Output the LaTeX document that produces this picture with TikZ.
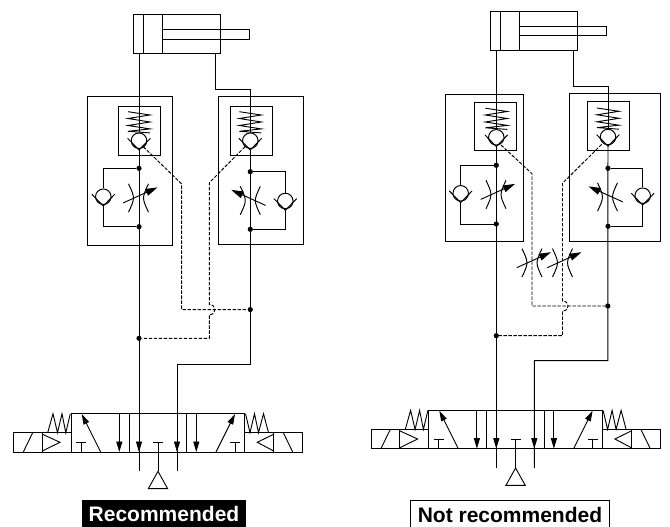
\documentclass[tikz,border=0pt]{standalone}
\usepackage{fontspec}
\setmainfont{Liberation Sans}
\usetikzlibrary{arrows.meta}
\tikzset{
  wire/.style={line width=0.98pt,black},
  thinw/.style={line width=0.92pt,black},
  pilot/.style={line width=0.95pt,black,dash pattern=on 3.4pt off 1.6pt},
  ball/.style={circle,draw,line width=0.98pt,black,minimum size=15.5pt,inner sep=0pt},
  dotj/.style={circle,fill=black,minimum size=5.2pt,inner sep=0pt},
  tipv/.style={-{Triangle[length=10.5pt,width=6pt]}},
  labelbox/.style={rectangle,inner sep=0pt,font=\bfseries\fontsize{21}{21}\selectfont,text height=21.7pt,text depth=5.3pt}
}
% ball check valve: name, x, y (centre of ball)
\newcommand{\chkv}[3]{%
  \node[ball] (#1) at (#2,#3) {};
  \coordinate (#1tip) at ({#2},{#3+9.3});
  \draw[wire] ({#2-11.4},{#3-2.4}) -- (#1tip) -- ({#2+11.4},{#3-2.4});
}
% spring: x centre, y top
\newcommand{\sprg}[2]{%
  \draw[thinw] ({#1-11},{#2}) -- ({#1+11},{#2+3.3}) -- ({#1-11},{#2+6.8}) -- ({#1+11},{#2+10.3})
     -- ({#1-11},{#2+13.8}) -- ({#1+11},{#2+17.2}) -- ({#1-11},{#2+19.6}) -- ({#1+11},{#2+21.2});
}
% variable throttle: x centre, y centre, direction (+1 arrow to the right, -1 to the left)
\newcommand{\thrt}[3]{%
  \draw[wire] ({#1-10},{#2-14.2}) .. controls ({#1-3.4},{#2}) .. ({#1-10},{#2+14.2});
  \draw[wire] ({#1+10},{#2-14.2}) .. controls ({#1+3.4},{#2}) .. ({#1+10},{#2+14.2});
  \draw[thinw,-{Triangle[length=12pt,width=7pt]}] ({#1-15.3*#3},{#2+4.9}) -- ({#1+19*#3},{#2-10.6});
}
% directional valve, in its own coordinates
\newcommand{\dirvalve}[1]{%
  \draw[wire] (71.3,452) -- (71.3,413.7) -- (244.7,413.7) -- (244.7,452) -- cycle;
  \draw[wire] (129,413.7) -- (129,452) (186.7,413.7) -- (186.7,452);
  \draw[wire] (71.3,432.7) -- (13.7,432.7) -- (13.7,452) -- (71.3,452);
  \draw[wire] (42.3,432.7) -- (42.3,452);
  \draw[wire] (244.7,432.7) -- (302.7,432.7) -- (302.7,452) -- (244.7,452);
  \draw[wire] (273.7,432.7) -- (273.7,452);
  \draw[thinw] (23.3,452) -- (32.7,432.7) (283.3,432.7) -- (292.7,452);
  \draw[thinw] (42.3,434.2) -- (60,442.3) -- (42.3,451);
  \draw[thinw] (273.7,434.2) -- (257.3,442.3) -- (273.7,451);
  \draw[thinw] (47.7,432.7) -- (53,413.7) -- (57.5,432.7) -- (62,413.7) -- (65.8,432.7) -- (70.3,413.7);
  \draw[thinw] (245.5,413.7) -- (250,432.7) -- (254.5,413.7) -- (258.5,432.7) -- (263.5,413.7) -- (268.5,432.7);
  \draw[thinw,tipv] (100.7,452) -- (81.7,414);
  \draw[thinw,tipv] (216,452) -- (235,414);
  \draw[thinw] (76,442.3) -- (86,442.3) (81,442.3) -- (81,452);
  \draw[thinw] (230,442.3) -- (240,442.3) (235,442.3) -- (235,452);
  \draw[thinw,tipv] (119.3,413.7) -- (119.3,452);
  \draw[thinw,tipv] (196.3,413.7) -- (196.3,452);
  \draw[thinw] (153,442.3) -- (163.3,442.3);
  \coordinate (#1ex) at (158,471.3);
  \draw[thinw] (158,442.3) -- (#1ex);
  \draw[thinw] (#1ex) -- (148.3,488.7) -- (167.7,488.7) -- cycle;
}
% cylinder
\newcommand{\cyl}[1]{%
  \draw[wire] (133.3,14.7) rectangle (220.3,53.3);
  \draw[wire] (143.3,14.7) rectangle (162.3,53.3);
  \draw[wire] (162.3,29.7) -- (249.3,29.7) -- (249.3,39) -- (162.3,39);
}
\begin{document}
\begin{tikzpicture}[x=1pt,y=-1pt]
\useasboundingbox (0,0) rectangle (670,527);

% ---------- LEFT: recommended ----------
\cyl{a}
\draw[wire] (87.7,96.3) rectangle (172.3,245.3);
\draw[wire] (218.7,96.3) rectangle (303.3,244.3);
\draw[wire] (118.3,106.7) rectangle (160.7,155);
\draw[wire] (230.3,106.7) rectangle (272.7,155);
\sprg{139}{111.7}
\sprg{250.3}{111.7}
\chkv{aL}{139}{140.7}
\chkv{aR}{250.3}{140.7}
\node[dotj] (aj1) at (139,168.3) {};
\node[dotj] (aj2) at (139,226.7) {};
\node[dotj] (aj3) at (250.3,171.7) {};
\node[dotj] (aj4) at (250.3,229.3) {};
\chkv{aB}{103.3}{196.7}
\chkv{aC}{285.3}{201}
\thrt{138.5}{198}{1}
\thrt{250.3}{200.5}{-1}
\draw[wire] (aj1) -| (aB.north);
\draw[wire] (aBtip) |- (aj2);
\draw[wire] (aj3) -| (aC.north);
\draw[wire] (aCtip) |- (aj4);
\dirvalve{a}
\coordinate (ap) at (139,471.3);
\coordinate (aq) at (177,471.3);
\node[dotj] (aj5) at (250.3,309.6) {};
\node[dotj] (aj6) at (139,338.3) {};
\draw[wire] (139,53.3) -- (aL.north);
\draw[wire] (aLtip) -- (ap);
\draw[wire] (215.3,53.3) -- (215.3,89.7) -- (250.3,89.7) -- (aR.north);
\draw[wire] (aRtip) -- (250.3,364) -- (177,364) -- (aq);
\draw[thinw,tipv] (139,413.7) -- (139,452);
\draw[thinw,tipv] (177,413.7) -- (177,452);
\draw[pilot] (143.3,146.7) -- (181.7,184) -- (181.7,309.6) -- (aj5);
\draw[pilot] (245,146.7) -- (209.3,182.7) -- (209.3,304.5) .. controls (216.8,304.5) and (216.8,314.7) .. (209.3,314.7) -- (209.3,338.3) -- (aj6);
\node[labelbox,fill=black,text=white,minimum width=164.6pt] (rec) at (164,513.5) {Recommended};

% ---------- RIGHT: not recommended ----------
\begin{scope}[shift={(357.6,-3.3)}]
\cyl{b}
\dirvalve{b}
\end{scope}
\draw[wire] (445.3,94.3) rectangle (523.7,241.7);
\draw[wire] (569,93.3) rectangle (660.3,241);
\draw[wire] (474,102) rectangle (516.3,150.7);
\draw[wire] (587.3,101.7) rectangle (629.3,150.3);
\sprg{496.3}{108.2}
\sprg{608}{108}
\chkv{bL}{496.3}{137.3}
\chkv{bR}{608}{137}
\node[dotj] (bj1) at (496.3,165.3) {};
\node[dotj] (bj2) at (496.3,224) {};
\node[dotj] (bj3) at (608,168.3) {};
\node[dotj] (bj4) at (608,226.3) {};
\chkv{bB}{460.7}{193.3}
\chkv{bC}{642.7}{195.7}
\thrt{496}{194.5}{1}
\thrt{607.5}{197}{-1}
\thrt{532}{262.8}{1}
\thrt{562.5}{262.8}{1}
\draw[wire] (bj1) -| (bB.north);
\draw[wire] (bBtip) |- (bj2);
\draw[wire] (bj3) -| (bC.north);
\draw[wire] (bCtip) |- (bj4);
\coordinate (bp) at (496.3,468);
\coordinate (bq) at (534.3,468);
\node[dotj] (bj5) at (607.8,306) {};
\node[dotj] (bj6) at (496.3,335.7) {};
\draw[wire] (496.3,50) -- (bL.north);
\draw[wire] (bLtip) -- (bp);
\draw[wire] (573,50) -- (573,86.3) -- (608,86.3) -- (bR.north);
\draw[wire] (bRtip) -- (607.8,360.7) -- (534.3,360.7) -- (bq);
\draw[thinw,tipv] (496.3,410.4) -- (496.3,448.7);
\draw[thinw,tipv] (534.3,410.4) -- (534.3,448.7);
\draw[pilot] (501,145) -- (532,173.7) -- (532,306) -- (bj5);
\draw[pilot] (601.7,144.3) -- (562.5,183.3) -- (562.5,301) .. controls (570,301) and (570,311) .. (562.5,311) -- (562.5,335.7) -- (bj6);
\node[labelbox,draw=black,line width=0.98pt,minimum width=198.6pt] (nrec) at (510,514.3) {Not recommended};
\end{tikzpicture}
\end{document}
